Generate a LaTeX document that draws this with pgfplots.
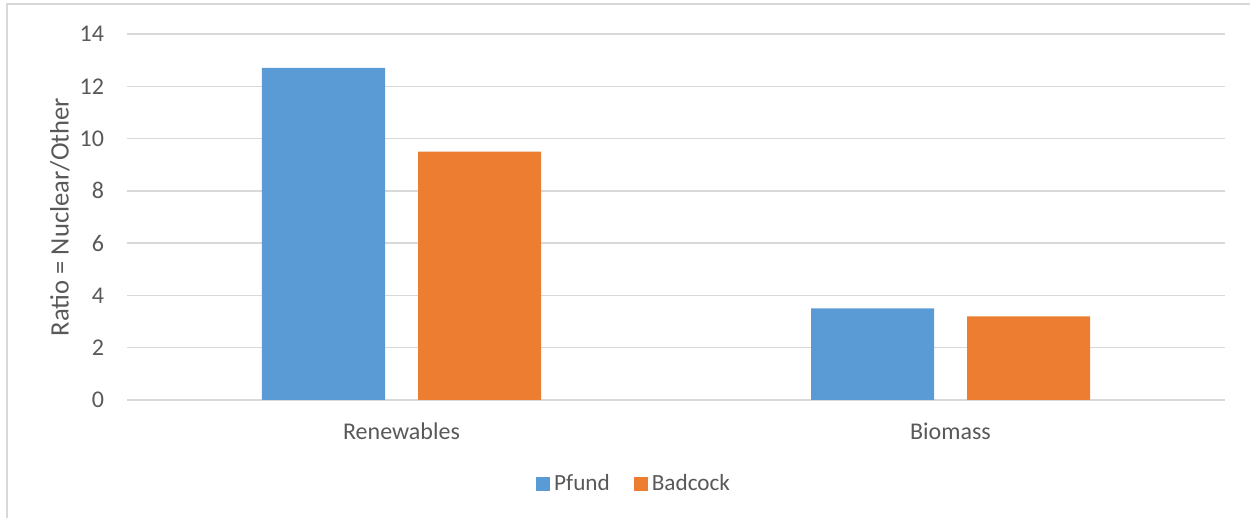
\documentclass[border=0pt]{standalone}
\usepackage{pgfplots}
\pgfplotsset{compat=1.18}
\usepackage{fontspec}
\setmainfont{Carlito}
\definecolor{cblue}{HTML}{5B9BD5}
\definecolor{corange}{HTML}{ED7D31}
\definecolor{cgrid}{HTML}{D9D9D9}
\definecolor{ctext}{HTML}{595959}
\begin{document}
\begin{tikzpicture}
\useasboundingbox (0,0) rectangle (625pt,259pt);
\draw[cgrid, line width=1pt] (3.5pt,0) -- (3.5pt,257pt) -- (625pt,257pt);
\begin{axis}[
  at={(63.5pt,59pt)}, anchor=south west,
  scale only axis, width=549pt, height=183pt,
  ybar=16.5pt, bar width=61.5pt,
  xmin=-0.5, xmax=1.5, ymin=0, ymax=14,
  xtick={0,1}, xticklabels={Renewables,Biomass},
  ytick={0,2,...,14},
  major tick length=0pt,
  axis line style={draw=none},
  axis x line*=bottom, axis y line*=left,
  ymajorgrids, grid style={cgrid, line width=0.75pt},
  /pgf/number format/assume math mode=true,
  tick label style={font=\fontsize{12}{14}\selectfont, text=ctext},
  yticklabel style={xshift=-8pt},
  xticklabel style={yshift=-8pt},
  ylabel={Ratio = Nuclear/Other},
  ylabel style={font=\fontsize{13.3}{15}\selectfont, text=ctext, at={(axis description cs:-0.061,0.5)}, anchor=center, rotate=0},
  legend style={at={(axis description cs:0.4627,-0.2295)}, anchor=center, draw=none, fill=none, legend columns=-1, font=\fontsize{11.6}{14}\selectfont, text=ctext,
    /tikz/every even column/.append style={column sep=10pt}},
  legend image code/.code={\fill[#1] (0pt,-3.5pt) rectangle (7pt,3.5pt);},
  legend cell align=left,
]
\addplot[fill=cblue, draw=none] coordinates {(0,12.7) (1,3.5)};
\addplot[fill=corange, draw=none] coordinates {(0,9.5) (1,3.2)};
\legend{Pfund,Badcock}
\end{axis}
\end{tikzpicture}
\end{document}
